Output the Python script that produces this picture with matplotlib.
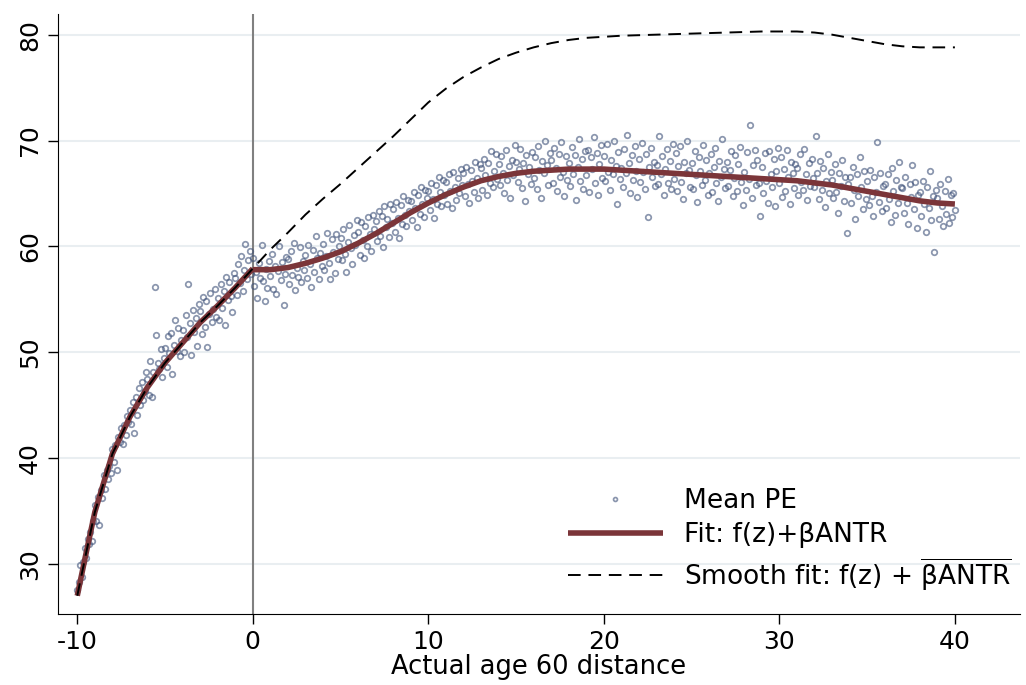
import numpy as np
import matplotlib
matplotlib.use("Agg")
import matplotlib.pyplot as plt

plt.rcParams['mathtext.fontset'] = 'dejavusans'
plt.rcParams['axes.unicode_minus'] = False

# mean PE par mois, de -10 a 40 ans (12 valeurs par annee)
pe_mean = [
    27.5, 28.3, 29.9, 28.8, 30.2, 31.5, 30.6, 32.4, 31.9, 33.0, 32.2, 34.1,
    35.6, 34.1, 36.3, 33.7, 37.0, 36.2, 38.4, 37.1, 38.9, 38.0, 39.3, 38.6,
    40.9, 39.6, 41.2, 38.9, 42.0, 41.5, 42.8, 41.3, 43.1, 42.2, 44.0, 43.4,
    44.5, 43.2, 45.3, 42.4, 45.8, 44.1, 46.6, 45.0, 47.2, 45.5, 46.3, 48.1,
    47.5, 46.0, 49.2, 45.8, 48.1, 56.2, 51.6, 49.0, 48.4, 50.3, 47.7, 49.5,
    50.4, 48.6, 51.5, 49.9, 51.8, 47.9, 50.7, 53.0, 50.1, 52.3, 49.6, 51.2,
    52.1, 50.0, 53.5, 51.4, 56.4, 52.8, 49.7, 54.0, 51.9, 53.2, 50.6, 54.6,
    53.9, 51.7, 55.2, 52.4, 54.8, 50.5, 53.6, 55.6, 52.9, 54.1, 56.0, 53.3,
    55.1, 53.0, 56.4, 54.2, 55.8, 52.6, 57.1, 54.9, 56.6, 55.3, 53.8, 57.5,
    57.0, 55.4, 58.3, 56.5, 59.1, 55.8, 57.8, 60.2, 56.9, 58.7, 59.6, 57.4,
    58.9, 56.3, 57.6, 55.1, 58.4, 57.0, 60.1, 56.7, 54.8, 57.9, 56.1, 58.6,
    57.2, 59.3, 56.0, 58.1, 55.5, 57.7, 60.0, 56.8, 58.5, 54.5, 57.4, 59.0,
    58.8, 56.4, 59.6, 57.3, 60.3, 55.9, 58.0, 57.1, 59.9, 56.6, 58.6, 57.8,
    59.2, 57.0, 60.1, 58.3, 56.2, 59.7, 57.6, 61.0, 58.9, 56.9, 59.4, 58.1,
    60.2, 57.8, 59.1, 61.3, 58.4, 56.9, 60.7, 59.5, 57.5, 61.2, 58.8, 60.0,
    60.8, 58.7, 61.6, 59.3, 57.6, 60.4, 62.0, 59.8, 58.3, 61.1, 60.1, 62.5,
    61.4, 59.2, 62.3, 60.6, 58.9, 61.9, 60.0, 62.8, 61.2, 59.6, 63.0, 61.6,
    62.4, 60.5, 63.3, 61.0, 62.9, 59.9, 63.8, 61.8, 62.6, 60.9, 64.0, 62.2,
    63.5, 61.4, 64.2, 62.7, 60.8, 63.9, 62.1, 64.8, 63.0, 61.9, 64.4, 63.3,
    64.3, 62.5, 65.1, 63.6, 61.8, 64.9, 63.1, 65.6, 64.0, 62.8, 65.3, 64.6,
    65.2, 63.4, 66.0, 64.5, 62.7, 65.8, 64.0, 66.6, 65.1, 63.8, 66.3, 64.9,
    66.1, 64.0, 66.8, 65.2, 63.6, 67.0, 65.6, 64.4, 66.5, 65.0, 67.3, 65.8,
    66.9, 64.8, 67.5, 65.9, 64.1, 67.2, 66.2, 65.1, 68.0, 66.5, 64.6, 67.8,
    67.4, 65.3, 68.3, 66.7, 64.9, 67.9, 66.0, 69.0, 65.6, 67.1, 68.7, 66.4,
    67.8, 65.8, 68.5, 66.9, 65.0, 69.1, 66.3, 67.6, 64.6, 68.2, 66.7, 69.6,
    68.0, 66.1, 67.3, 69.2, 65.5, 67.9, 64.3, 68.6, 66.8, 67.5, 65.9, 68.9,
    66.5, 68.4, 65.4, 69.5, 67.2, 64.6, 68.1, 66.9, 70.0, 67.7, 65.8, 68.8,
    68.2, 66.0, 69.3, 67.4, 65.2, 68.7, 66.6, 69.9, 67.0, 64.8, 68.5, 66.3,
    67.9, 65.7, 69.4, 66.8, 68.6, 64.4, 67.5, 70.1, 66.2, 68.3, 65.4, 69.0,
    66.7, 69.1, 65.1, 68.4, 67.3, 70.3, 66.0, 68.8, 64.9, 67.8, 69.6, 66.5,
    68.5, 66.2, 69.7, 67.0, 65.3, 68.2, 66.8, 70.0, 67.6, 64.0, 68.9, 66.4,
    67.4, 65.6, 69.2, 66.9, 70.5, 67.9, 65.0, 68.6, 66.3, 69.5, 67.1, 64.7,
    68.3, 66.1, 69.8, 67.0, 65.4, 68.7, 62.8, 67.5, 69.3, 66.6, 68.0, 65.7,
    67.7, 65.9, 70.4, 66.8, 68.5, 64.9, 67.3, 69.2, 66.0, 68.1, 65.4, 69.7,
    66.4, 68.8, 65.2, 67.6, 69.5, 66.1, 64.5, 68.0, 66.9, 70.0, 67.2, 65.6,
    67.9, 65.4, 69.0, 66.7, 64.2, 68.4, 67.1, 65.8, 69.6, 66.3, 68.2, 64.9,
    66.9, 68.7, 65.1, 67.5, 69.3, 66.0, 64.3, 68.1, 66.6, 70.1, 67.3, 65.5,
    68.0, 65.7, 67.2, 69.0, 64.8, 66.5, 68.6, 65.2, 67.8, 69.4, 66.1, 63.9,
    67.0, 65.3, 68.9, 66.4, 71.5, 64.6, 67.7, 69.1, 65.8, 68.2, 66.0, 62.9,
    67.5, 65.0, 68.8, 66.2, 64.1, 69.0, 66.8, 65.6, 68.3, 63.8, 67.1, 69.3,
    66.0, 68.4, 64.7, 67.3, 65.2, 69.1, 66.6, 64.0, 68.0, 66.9, 65.5, 67.8,
    67.4, 64.9, 68.7, 66.1, 65.3, 69.2, 66.8, 64.4, 67.9, 65.7, 68.3, 66.5,
    65.6, 70.4, 66.9, 64.5, 68.1, 65.3, 67.4, 63.7, 66.2, 68.7, 65.0, 67.0,
    66.3, 64.6, 67.8, 65.1, 63.2, 66.9, 65.7, 68.2, 64.3, 66.6, 61.3, 65.9,
    66.6, 64.1, 67.5, 65.3, 62.6, 66.8, 64.8, 68.4, 65.6, 63.5, 67.1, 64.5,
    66.2, 63.9, 67.2, 64.8, 62.9, 66.6, 65.1, 69.9, 64.2, 66.9, 63.3, 65.7,
    65.9, 63.6, 66.8, 64.5, 62.3, 67.4, 65.2, 63.0, 66.3, 64.1, 68.0, 65.6,
    65.5, 63.2, 66.6, 64.1, 62.1, 65.9, 64.7, 67.7, 63.5, 66.1, 61.7, 64.9,
    65.1, 62.9, 66.2, 64.0, 61.4, 65.6, 63.6, 67.1, 62.5, 64.8, 59.5, 65.3,
    64.6, 62.6, 65.9, 63.8, 61.9, 65.2, 63.1, 66.4, 62.2, 64.9, 62.8, 65.0,
    63.4,
]
pe_x = np.arange(len(pe_mean)) / 12 - 10

# fit avant 0 (partie commune)
fit_gauche_x = [-10, -9.5, -9, -8, -7, -6, -5, -4, -3, -2, -1, 0]
fit_gauche_y = [27.0, 31.0, 34.9, 40.4, 43.9, 46.7, 49.0, 50.9, 52.8, 54.4, 56.1, 57.9]

# fit apres 0
fit_droite_x = list(range(0, 41))
fit_droite_y = [57.8, 57.8, 58.0, 58.4, 58.9, 59.5, 60.3, 61.2, 62.2, 63.2,
                64.1, 64.9, 65.6, 66.2, 66.6, 66.9, 67.1, 67.2, 67.3, 67.3,
                67.3, 67.2, 67.1, 67.0, 66.9, 66.8, 66.7, 66.6, 66.5, 66.4,
                66.3, 66.2, 66.0, 65.8, 65.5, 65.2, 64.9, 64.6, 64.3, 64.1, 64.0]

# smooth fit apres 0
smooth_droite_y = [58.3, 59.7, 61.3, 63.0, 64.5, 65.9, 67.4, 68.9, 70.4, 72.0,
                   73.6, 74.9, 76.0, 76.9, 77.7, 78.3, 78.8, 79.2, 79.5, 79.7,
                   79.8, 79.9, 79.95, 80.0, 80.05, 80.1, 80.15, 80.2, 80.25, 80.3,
                   80.3, 80.3, 80.2, 80.0, 79.7, 79.4, 79.1, 78.9, 78.8, 78.8, 78.8]

fig = plt.figure(figsize=(10.26, 6.85), dpi=100)
ax = fig.add_axes([0.0565, 0.1036, 0.9375, 0.8764])

ax.set_axisbelow(True)
ax.grid(axis='y', color='#e9eef1', linewidth=1.5)
ax.axvline(0, color='#808080', linewidth=1.5, zorder=1)

ax.plot(pe_x, pe_mean, linestyle='none', marker='o', markersize=4.0,
        markerfacecolor='none', markeredgecolor='#3d5078', markeredgewidth=1.25,
        alpha=0.6, label='Mean PE', zorder=2)

ax.plot(fit_gauche_x, fit_gauche_y, color='#7b3539', linewidth=4.0,
        solid_capstyle='butt', zorder=3, label='Fit: f(z)+βANTR')
ax.plot(fit_droite_x, fit_droite_y, color='#7b3539', linewidth=4.0,
        solid_capstyle='butt', zorder=3)

ax.plot(fit_gauche_x + fit_droite_x[1:], fit_gauche_y + smooth_droite_y[1:],
        color='black', linewidth=1.4, dashes=(6.5, 4), zorder=4,
        label='Smooth fit: f(z) + $\\overline{\\mathrm{\\beta ANTR}}$')

ax.set_xlim(-11.1, 43.7)
ax.set_ylim(25.27, 81.98)
ax.set_xticks([-10, 0, 10, 20, 30, 40])
ax.set_yticks([30, 40, 50, 60, 70, 80])
ax.tick_params(length=7.5, width=1, labelsize=18, pad=4)
for lab in ax.get_yticklabels():
    lab.set_rotation(90)
    lab.set_va('center')
ax.set_xlabel('Actual age 60 distance', fontsize=18.5, labelpad=0)

ax.spines['top'].set_visible(False)
ax.spines['right'].set_visible(False)

leg = ax.legend(loc='lower right', bbox_to_anchor=(1025 / 1026, 1 - 606 / 685),
                bbox_transform=fig.transFigure, frameon=False, borderpad=0,
                fontsize=19, handlelength=3.6, handletextpad=0.8,
                labelspacing=0.3, markerscale=0.7)

fig.savefig('out.png', dpi=100)
